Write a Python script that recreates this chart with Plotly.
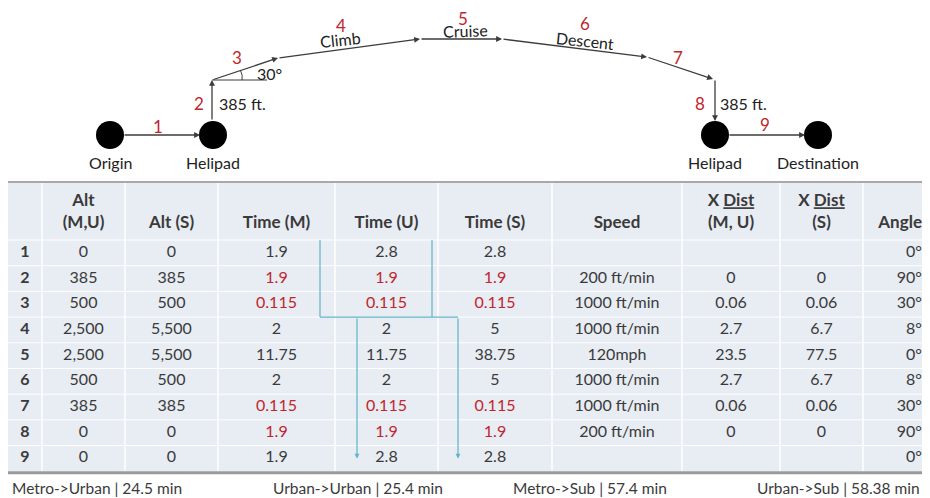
import plotly.graph_objects as go

# ---------------- data ----------------
steps = ["1", "2", "3", "4", "5", "6", "7", "8", "9"]
alt_mu = ["0", "385", "500", "2,500", "2,500", "500", "385", "0", "0"]
alt_s = ["0", "385", "500", "5,500", "5,500", "500", "385", "0", "0"]
time_m = ["1.9", "1.9", "0.115", "2", "11.75", "2", "0.115", "1.9", "1.9"]
time_u = ["2.8", "1.9", "0.115", "2", "11.75", "2", "0.115", "1.9", "2.8"]
time_s = ["2.8", "1.9", "0.115", "5", "38.75", "5", "0.115", "1.9", "2.8"]
speed = ["", "200 ft/min", "1000 ft/min", "1000 ft/min", "120mph",
         "1000 ft/min", "1000 ft/min", "200 ft/min", ""]
xdist_mu = ["", "0", "0.06", "2.7", "23.5", "2.7", "0.06", "0", ""]
xdist_s = ["", "0", "0.06", "6.7", "77.5", "6.7", "0.06", "0", ""]
angle_deg = [0, 90, 30, 8, 0, 8, 30, 90, 0]
red_steps = [2, 3, 7, 8]

header_line1 = ["", "Alt", "", "", "", "", "", "X <u>Dist</u>", "X <u>Dist</u>", ""]
header_line2 = ["", "(M,U)", "Alt (S)", "Time (M)", "Time (U)", "Time (S)",
                "Speed", "(M, U)", "(S)", "Angle"]

routes = ["Metro->Urban", "Urban->Urban", "Metro->Sub", "Urban->Sub"]
route_minutes = ["24.5", "25.4", "57.4", "58.38"]

# schematic flight profile (diagram units)
node_names = ["Origin", "Helipad", "Helipad", "Destination"]
node_x = [110, 213, 715, 818]
node_y = [135, 135, 135, 135]
seg_names = ["", "", "", "Climb", "Cruise", "Descent", "", "", ""]
seg_start_x = [123, 212, 212, 278, 420, 502, 647, 715, 728]
seg_start_y = [135, 121, 80, 58, 39, 39, 57, 79, 135]
seg_end_x = [200, 212, 278, 420, 502, 647, 713, 715, 805]
seg_end_y = [135, 80, 58, 39, 39, 57, 79, 121, 135]
seg_num_x = [158, 199, 237, 341, 463, 585, 678, 700, 765]
seg_num_y = [126, 103, 57, 25, 18, 23, 57, 103, 124]
seg_name_x = [0, 0, 0, 340, 465, 585, 0, 0, 0]
seg_name_y = [0, 0, 0, 39, 30, 40, 0, 0, 0]
seg_name_rot = [0, 0, 0, -6, -2, 6, 0, 0, 0]
climb_ft_labels = ["385 ft.", "385 ft."]
climb_ft_x = [217, 718]
climb_ft_y = [103, 103]
climb_angle_label = "30°"

# ---------------- style ----------------
W, H = 930, 498          # page window (reference pixel frame)
PAGE_OFFSET = 8          # default body margin of the html page
FONT = "Lato"
TXT = "#3a3a3a"
RED = "#c0262c"
BG = "#e8ecf3"
BLUE = "#5fb4c8"
LINE = "#3c3c3c"

TABLE_LEFT, TABLE_TOP = 8, 182
HEADER_H, ROW_H = 58, 25.7
COL_W = [34, 83, 93, 117, 103, 114, 130, 98, 83, 67]
HDR_Y1, HDR_Y2 = 202, 224

edges = [TABLE_LEFT]
for w in COL_W:
    edges.append(edges[-1] + w)
centers = [(a + b) / 2 for a, b in zip(edges[:-1], edges[1:])]


def row_top(k):
    return TABLE_TOP + HEADER_H + k * ROW_H


row_centers = [row_top(k) + ROW_H / 2 for k in range(len(steps))]
table_bottom = row_top(len(steps))

fig = go.Figure()
shapes = []
ann = []

# ---------------- table background & grid ----------------
shapes.append(dict(type="rect", xref="x", yref="y", x0=TABLE_LEFT, x1=W, y0=TABLE_TOP,
                   y1=table_bottom, fillcolor=BG, line=dict(width=0), layer="below"))
for e in edges[1:-1]:
    shapes.append(dict(type="line", xref="x", yref="y", x0=e, x1=e, y0=TABLE_TOP,
                       y1=table_bottom, line=dict(color="white", width=1.5), layer="below"))
for k in range(len(steps)):
    shapes.append(dict(type="line", xref="x", yref="y", x0=TABLE_LEFT, x1=W,
                       y0=row_top(k), y1=row_top(k), line=dict(color="white", width=1),
                       layer="below"))
shapes += [
    dict(type="line", xref="x", yref="y", x0=TABLE_LEFT, x1=W, y0=TABLE_TOP, y1=TABLE_TOP,
         line=dict(color="#a8a8a8", width=2), layer="above"),
    dict(type="line", xref="x", yref="y", x0=TABLE_LEFT, x1=W, y0=table_bottom + 1.5,
         y1=table_bottom + 1.5, line=dict(color="#9a9a9a", width=3), layer="above"),
]

# ---------------- table text ----------------
cols = [[f"<b>{s}</b>" for s in steps], alt_mu, alt_s, time_m, time_u, time_s,
        speed, xdist_mu, xdist_s, [f"{a}°" for a in angle_deg]]
RIGHT_PAD = 8
for ci, col in enumerate(cols):
    if ci in (3, 4, 5):
        cc = [RED if int(s) in red_steps else TXT for s in steps]
    else:
        cc = [TXT] * len(steps)
    right = ci == len(cols) - 1
    xpos = edges[ci + 1] - RIGHT_PAD if right else centers[ci]
    fig.add_trace(go.Scatter(
        x=[xpos] * len(col), y=row_centers, text=col, mode="text",
        textposition="middle left" if right else "middle center",
        textfont=dict(family=FONT, size=16, color=cc),
        hoverinfo="skip", showlegend=False, cliponaxis=False))
    for line_y, lab in ((HDR_Y1, header_line1[ci]), (HDR_Y2, header_line2[ci])):
        if lab:
            fig.add_trace(go.Scatter(
                x=[xpos], y=[line_y], text=[f"<b>{lab}</b>"], mode="text",
                textposition="middle left" if right else "middle center",
                textfont=dict(family=FONT, size=17, color=TXT),
                hoverinfo="skip", showlegend=False, cliponaxis=False))

# flow lines across time columns
FLOW_TOP_X = [320, 432]
FLOW_DOWN_X = [357, 458]
for fx in FLOW_TOP_X:
    shapes.append(dict(type="line", xref="x", yref="y", x0=fx, x1=fx, y0=row_top(0),
                       y1=row_top(3), line=dict(color=BLUE, width=1.2), layer="above"))
shapes.append(dict(type="line", xref="x", yref="y", x0=FLOW_TOP_X[0], x1=FLOW_DOWN_X[1],
                   y0=row_top(3), y1=row_top(3), line=dict(color=BLUE, width=1.2),
                   layer="above"))
for fx in FLOW_DOWN_X:
    ann.append(dict(x=fx, y=row_top(8) + 13, ax=fx, ay=row_top(3), xref="x", yref="y",
                    axref="x", ayref="y", text="", showarrow=True, arrowhead=2,
                    arrowsize=0.8, arrowwidth=1.2, arrowcolor=BLUE, standoff=0))

# footer totals
footer_x = [10, 358, 590, 922]
footer_anchor = ["left", "center", "center", "right"]
for r, m, fx, xa in zip(routes, route_minutes, footer_x, footer_anchor):
    ann.append(dict(x=fx, y=488, xref="x", yref="y", text=f"{r} | {m} min",
                    xanchor=xa, showarrow=False,
                    font=dict(family=FONT, size=15.5, color=TXT)))

# ---------------- diagram ----------------
fig.add_trace(go.Scatter(
    x=node_x, y=node_y, mode="markers",
    marker=dict(size=28, color="black", symbol="circle"),
    hoverinfo="skip", showlegend=False))

for i in range(len(steps)):
    ann.append(dict(x=seg_end_x[i], y=seg_end_y[i], ax=seg_start_x[i], ay=seg_start_y[i],
                    xref="x", yref="y", axref="x", ayref="y", text="", showarrow=True,
                    arrowhead=2, arrowsize=0.9, arrowwidth=1.3, arrowcolor=LINE,
                    standoff=0, startstandoff=0))
    ann.append(dict(x=seg_num_x[i], y=seg_num_y[i], xref="x", yref="y", text=steps[i],
                    showarrow=False, font=dict(family=FONT, size=17, color=RED)))
    if seg_names[i]:
        ann.append(dict(x=seg_name_x[i], y=seg_name_y[i], xref="x", yref="y",
                        text=seg_names[i], textangle=seg_name_rot[i], showarrow=False,
                        font=dict(family=FONT, size=16, color="#222")))
for name, nx in zip(node_names, node_x):
    ann.append(dict(x=nx, y=162, xref="x", yref="y", text=name, showarrow=False,
                    font=dict(family=FONT, size=16, color="#222")))
for lab, lx, ly in zip(climb_ft_labels, climb_ft_x, climb_ft_y):
    ann.append(dict(x=lx, y=ly, xref="x", yref="y", text=lab, xanchor="left",
                    showarrow=False, font=dict(family=FONT, size=16, color="#222")))
ann.append(dict(x=269, y=73, xref="x", yref="y", text=climb_angle_label, showarrow=False,
                font=dict(family=FONT, size=16, color="#222")))

shapes += [
    dict(type="line", xref="x", yref="y", x0=212, y0=80, x1=267, y1=80,
         line=dict(color=LINE, width=1)),
    dict(type="path", xref="x", yref="y", path="M 242,80 Q 243,75 240.5,70.5",
         line=dict(color=LINE, width=1)),
]

# the figure sits inside the page's default margin, so it spans the window minus it
fig.update_layout(
    width=W - PAGE_OFFSET, height=H - PAGE_OFFSET, margin=dict(l=0, r=0, t=0, b=0),
    paper_bgcolor="white", plot_bgcolor="white",
    xaxis=dict(range=[PAGE_OFFSET, W], visible=False, fixedrange=True, domain=[0, 1]),
    yaxis=dict(range=[H, PAGE_OFFSET], visible=False, fixedrange=True, domain=[0, 1]),
    shapes=shapes, annotations=ann, showlegend=False,
    font=dict(family=FONT, color=TXT),
)
fig.write_html("out.html")
